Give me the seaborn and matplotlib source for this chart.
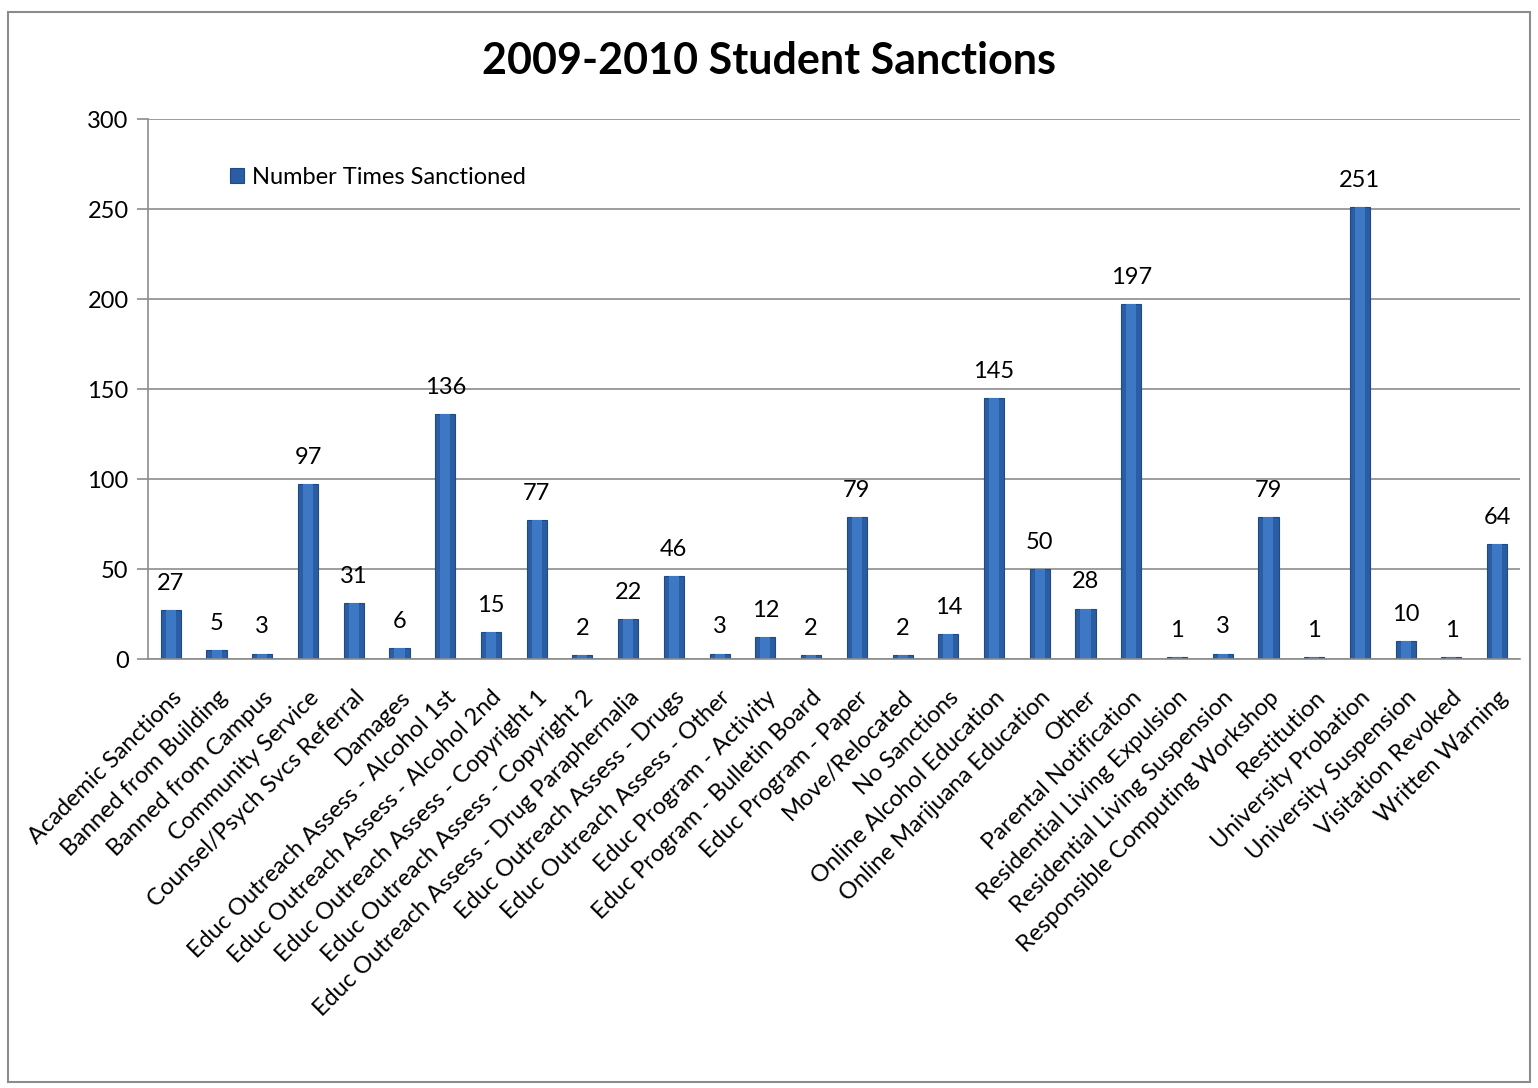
import matplotlib
matplotlib.use("Agg")
import matplotlib.pyplot as plt
import seaborn as sns
import pandas as pd
import numpy as np
from matplotlib.patches import Rectangle

categories = [
    "Academic Sanctions", "Banned from Building", "Banned from Campus",
    "Community Service", "Counsel/Psych Svcs Referral", "Damages",
    "Educ Outreach Assess - Alcohol 1st", "Educ Outreach Assess - Alcohol 2nd",
    "Educ Outreach Assess - Copyright 1", "Educ Outreach Assess - Copyright 2",
    "Educ Outreach Assess - Drug Paraphernalia", "Educ Outreach Assess - Drugs",
    "Educ Outreach Assess - Other", "Educ Program - Activity",
    "Educ Program - Bulletin Board", "Educ Program - Paper", "Move/Relocated",
    "No Sanctions", "Online Alcohol Education", "Online Marijuana Education",
    "Other", "Parental Notification", "Residential Living Expulsion",
    "Residential Living Suspension", "Responsible Computing Workshop",
    "Restitution", "University Probation", "University Suspension",
    "Visitation Revoked", "Written Warning",
]
values = [27, 5, 3, 97, 31, 6, 136, 15, 77, 2, 22, 46, 3, 12, 2, 79, 2, 14,
          145, 50, 28, 197, 1, 3, 79, 1, 251, 10, 1, 64]
series_name = "Number Times Sanctioned"
title = "2009-2010 Student Sanctions"

sns.set_style("white")
plt.rcParams['font.family'] = ['Lato', 'DejaVu Sans']
plt.rcParams['text.color'] = 'black'
plt.rcParams['xtick.color'] = 'black'
plt.rcParams['ytick.color'] = 'black'

df = pd.DataFrame({"cat": categories, "val": values})

fig = plt.figure(figsize=(15.38, 10.88), dpi=100)
ax = fig.add_axes([0.0962, 0.3943, 0.8921, 0.4963])

sns.barplot(data=df, x="cat", y="val", ax=ax, color="#2A5DA3", width=0.44,
            saturation=1, edgecolor="#1E4A86", linewidth=0.8, label=series_name)
# lighter centre band to mimic the bevelled shading
sns.barplot(data=df, x="cat", y="val", ax=ax, color="#3D78C4", width=0.22,
            saturation=1, linewidth=0)

for i, v in enumerate(values):
    ax.text(i, v + 9, str(v), ha="center", va="bottom", fontsize=17, color="black")

ax.set_ylim(0, 300)
ax.set_xlim(-0.5, len(categories) - 0.5)
ax.set_yticks(np.arange(0, 301, 50))
ax.yaxis.grid(True, color="#8C8C8C", linewidth=1.2)
ax.set_axisbelow(True)
ax.set_xlabel("")
ax.set_ylabel("")
for s in ["top", "right"]:
    ax.spines[s].set_visible(False)
for s in ["left", "bottom"]:
    ax.spines[s].set_color("#8C8C8C")
    ax.spines[s].set_linewidth(1.2)

ax.set_xticks(range(len(categories)))
ax.set_xticklabels(categories, rotation=45, ha="right", rotation_mode="anchor",
                   fontsize=17)
ax.tick_params(axis="x", which="major", length=0, pad=20)
ax.set_xticks(np.arange(-0.5, len(categories), 1), minor=True)
ax.tick_params(axis="x", which="minor", length=8, color="#8C8C8C", width=1.2)
ax.tick_params(axis="y", length=8, color="#8C8C8C", width=1.2, labelsize=17,
               left=True, pad=6)

leg = ax.legend(loc="upper left", bbox_to_anchor=(0.044, 0.95), frameon=False,
                fontsize=17, handlelength=0.6, handleheight=0.6, handletextpad=0.35)

fig.suptitle(title, fontsize=31, fontweight="bold", y=0.962)

fig.patches.append(Rectangle((8 / 1538, 1 - 1082 / 1088), 1522 / 1538, 1070 / 1088,
                             transform=fig.transFigure, fill=False,
                             edgecolor="#8C8C8C", linewidth=1.5))

fig.savefig("out.png", dpi=100)
